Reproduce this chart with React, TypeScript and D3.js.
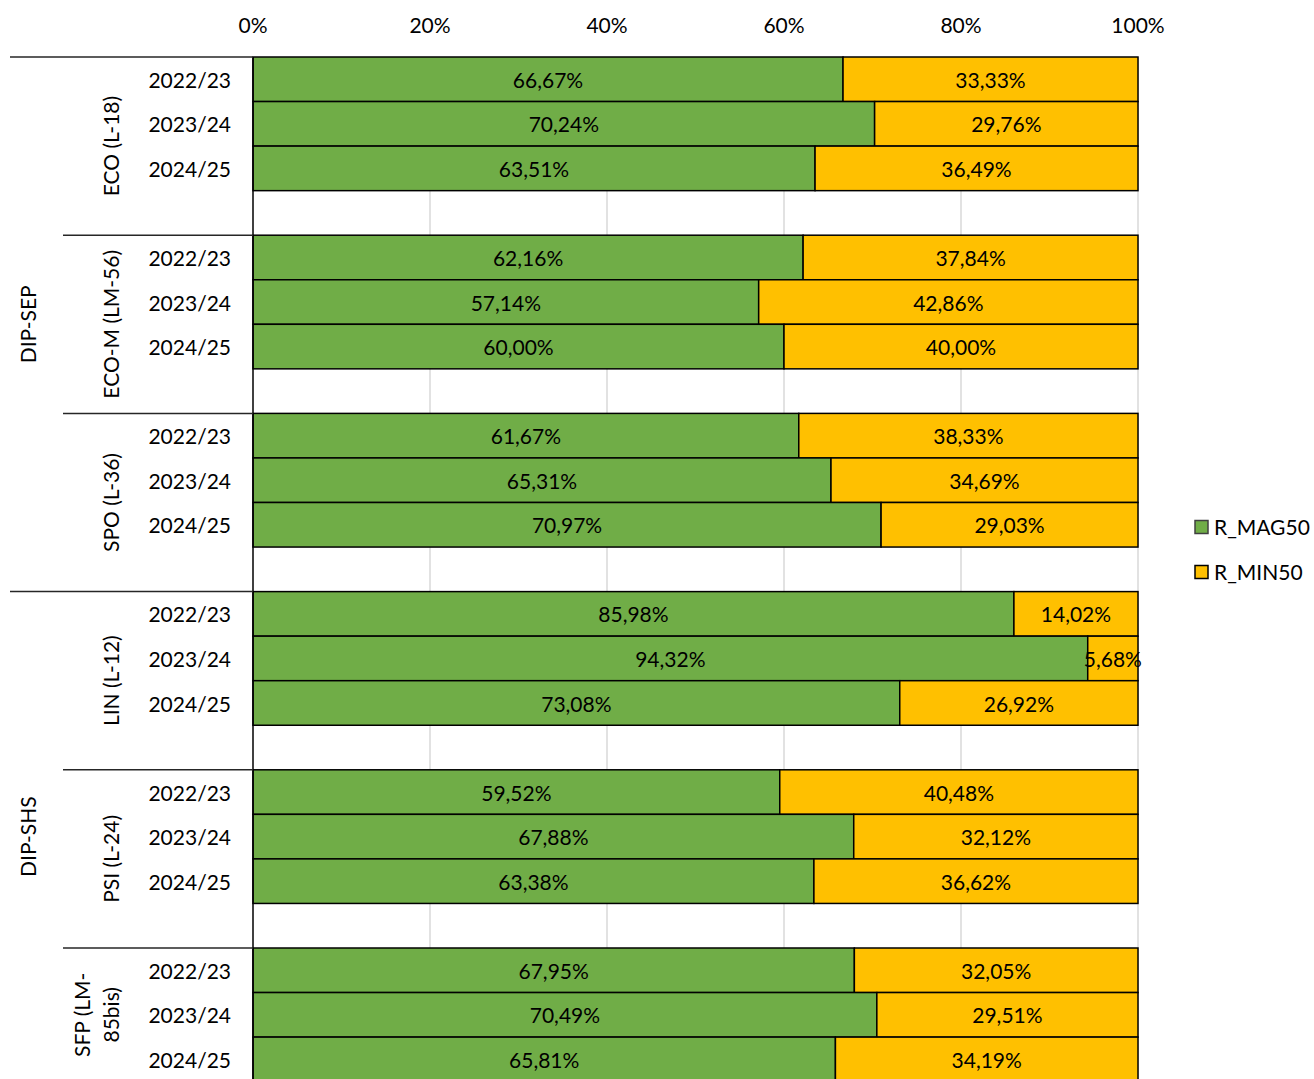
import * as d3 from 'd3';

const divisions = ['DIP-SEP', 'DIP-SHS'];
const programs = ['ECO (L-18)', 'ECO-M (LM-56)', 'SPO (L-36)', 'LIN (L-12)', 'PSI (L-24)', 'SFP (LM-85bis)'];
const programDivision = [0, 0, 0, 1, 1, 1];
const years = ['2022/23', '2023/24', '2024/25'];

// R_MAG50 per program, per year
const magValues = [
  [66.67, 70.24, 63.51],
  [62.16, 57.14, 60.0],
  [61.67, 65.31, 70.97],
  [85.98, 94.32, 73.08],
  [59.52, 67.88, 63.38],
  [67.95, 70.49, 65.81],
];
// R_MIN50 per program, per year
const minValues = [
  [33.33, 29.76, 36.49],
  [37.84, 42.86, 40.0],
  [38.33, 34.69, 29.03],
  [14.02, 5.68, 26.92],
  [40.48, 32.12, 36.62],
  [32.05, 29.51, 34.19],
];
const xTicks = [0, 20, 40, 60, 80, 100];
const seriesNames = ['R_MAG50', 'R_MIN50'];
const seriesColors = ['#70AD47', '#FFC000'];

const W = 1314;
const H = 1079;
const FONT = 'Lato, "Open Sans", sans-serif';
const slotsPerGroup = 4; // 3 years + one empty slot
const totalSlots = programs.length * slotsPerGroup - 1;
const plotTop = 57;
const slotH = 44.55;

const fmt = (v: number) => v.toFixed(2).replace('.', ',') + '%';

export default function App() {
  const x = d3.scaleLinear().domain([0, 100]).range([253, 1138]);
  const y = d3.scaleLinear().domain([0, totalSlots]).range([plotTop, plotTop + totalSlots * slotH]);

  const groupStart = (p: number) => p * slotsPerGroup;
  const groupEnd = (p: number) => Math.min(p * slotsPerGroup + slotsPerGroup, totalSlots);

  const divisionSpan = divisions.map((_, d) => {
    const idx = programs.map((_, i) => i).filter((i) => programDivision[i] === d);
    return [groupStart(idx[0]), groupEnd(idx[idx.length - 1])];
  });

  return (
    <svg width={W} height={H} style={{ position: 'absolute', left: 0, top: 0, background: '#fff' }} fontFamily={FONT}>
      {/* grid */}
      {xTicks.filter((t) => t > 0).map((t) => (
        <line key={'g' + t} x1={x(t)} x2={x(t)} y1={plotTop} y2={y(totalSlots)} stroke="#D9D9D9" strokeWidth={1.5} />
      ))}
      {/* top axis labels */}
      {xTicks.map((t) => (
        <text key={'t' + t} x={x(t)} y={33} textAnchor="middle" fontSize={21} fill="#000">
          {t + '%'}
        </text>
      ))}

      {/* bars */}
      {programs.map((p, pi) =>
        years.map((yr, yi) => {
          const s = groupStart(pi) + yi;
          const mag = magValues[pi][yi];
          const min = minValues[pi][yi];
          const y0 = y(s);
          const y1 = y(s + 1);
          const segs = [
            [0, mag],
            [mag, mag + min],
          ];
          return (
            <g key={p + yr}>
              {segs.map(([a, b], k) => (
                <rect key={k} x={x(a)} y={y0} width={x(b) - x(a)} height={y1 - y0}
                  fill={seriesColors[k]} stroke="#000" strokeWidth={1.5} />
              ))}
              {segs.map(([a, b], k) => (
                <text key={'l' + k} x={(x(a) + x(b)) / 2} y={(y0 + y1) / 2 + 1} dy="0.36em"
                  textAnchor="middle" fontSize={21} fill="#000">
                  {fmt(k === 0 ? mag : min)}
                </text>
              ))}
            </g>
          );
        })
      )}

      {/* vertical axis line */}
      <line x1={x(0)} x2={x(0)} y1={plotTop} y2={y(totalSlots)} stroke="#000" strokeWidth={1.5} />

      {/* category separators */}
      {programs.map((p, pi) => {
        const isDivStart = divisionSpan.some(([a]) => a === groupStart(pi));
        return (
          <line key={'s' + p} x1={isDivStart ? 10 : 63} x2={x(0)} y1={y(groupStart(pi))} y2={y(groupStart(pi))}
            stroke="#262626" strokeWidth={1.5} />
        );
      })}

      {/* year labels */}
      {programs.map((p, pi) =>
        years.map((yr, yi) => {
          const s = groupStart(pi) + yi;
          return (
            <text key={'y' + p + yr} x={231} y={(y(s) + y(s + 1)) / 2 + 1} dy="0.36em" textAnchor="end" fontSize={21} fill="#000">
              {yr}
            </text>
          );
        })
      )}

      {/* program labels */}
      {programs.map((p, pi) => {
        const cy = (y(groupStart(pi)) + y(groupEnd(pi))) / 2;
        const lines = p === 'SFP (LM-85bis)' ? ['SFP (LM-', '85bis)'] : [p];
        const cx = lines.length > 1 ? 82 : 111;
        return (
          <text key={'p' + p} transform={`translate(${cx},${cy}) rotate(-90)`} textAnchor="middle" fontSize={21} fill="#000">
            {lines.map((l, li) => (
              <tspan key={li} x={0} dy={li === 0 ? '0.36em' : 29}>{l}</tspan>
            ))}
          </text>
        );
      })}

      {/* division labels */}
      {divisions.map((d, di) => {
        const [a, b] = divisionSpan[di];
        const cy = (y(a) + y(b)) / 2;
        return (
          <text key={'d' + d} transform={`translate(28,${cy}) rotate(-90)`} textAnchor="middle" dy="0.36em" fontSize={21} fill="#000">
            {d}
          </text>
        );
      })}

      {/* legend */}
      {seriesNames.map((n, i) => (
        <g key={n} transform={`translate(1195,${527 + i * 45})`}>
          <rect x={0} y={-6.5} width={13} height={13} fill={seriesColors[i]} stroke={i === 0 ? '#404040' : '#000'} strokeWidth={1.5} />
          <text x={19} y={0} dy="0.36em" fontSize={21} fill="#000">{n}</text>
        </g>
      ))}
    </svg>
  );
}
